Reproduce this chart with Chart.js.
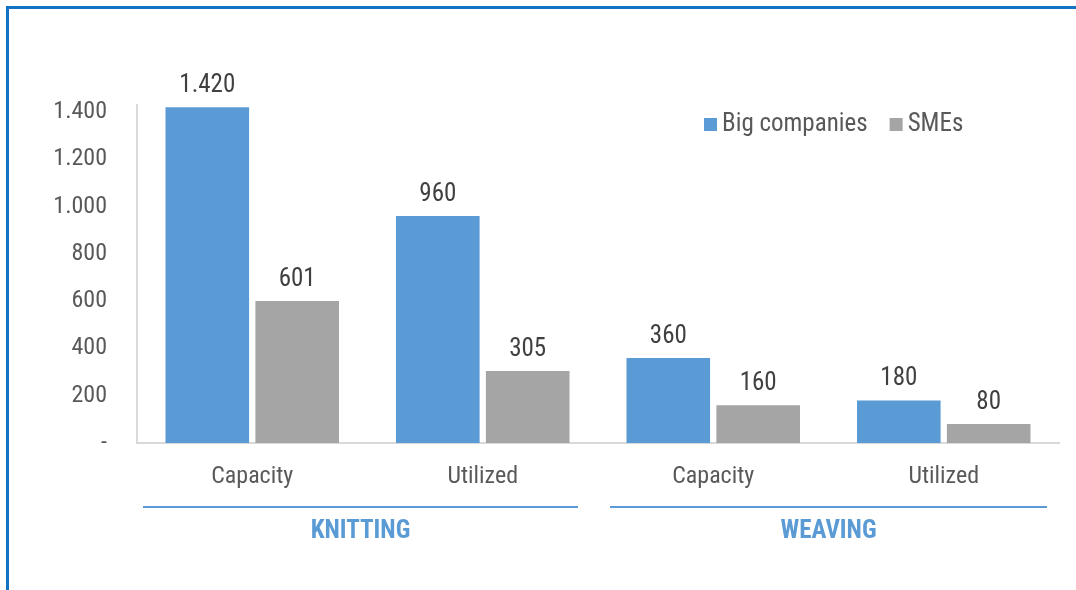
<!DOCTYPE html>
<html>
<head>
<meta charset="utf-8">
<script src="https://cdn.jsdelivr.net/npm/chart.js@4/dist/chart.umd.min.js"></script>
<style>
  html, body { margin: 0; padding: 0; background: #fff; }
  #wrap { position: relative; width: 1076px; height: 590px; }
  #frame {
    position: absolute; left: 6px; top: 6px; right: 0; bottom: 0;
    border-top: 3px solid #1273c3; border-left: 3px solid #1273c3;
  }
  canvas { position: absolute; left: 0; top: 0; }
</style>
</head>
<body>
<div id="wrap">
  <div id="frame"></div>
  <canvas id="capacityChart" width="1076" height="590"></canvas>
</div>
<script>
// capacity vs utilization, knitting & weaving
const categories = ['Capacity', 'Utilized', 'Capacity', 'Utilized'];
const bigCompanies = [1420, 960, 360, 180];
const smes = [601, 305, 160, 80];
const yTicks = [0, 200, 400, 600, 800, 1000, 1200, 1400];
const groups = [
    { label: 'KNITTING', from: 0, to: 1 },
    { label: 'WEAVING', from: 2, to: 3 }
];

const FONT = '"Roboto Condensed", "Liberation Sans Narrow", "Arial Narrow", "DejaVu Sans Condensed", sans-serif';
const BLUE = '#5b9bd5';
const GRAY = '#a5a5a5';

// 1.420 style thousands separator, zero shown as a dash
function fmt(v) {
    if (v === 0) return '-';
    return String(v).replace(/\B(?=(\d{3})+(?!\d))/g, '.');
}

const valueLabels = {
    id: 'valueLabels',
    afterDatasetsDraw(chart) {
        const ctx = chart.ctx;
        ctx.save();
        ctx.font = '25px ' + FONT;
        ctx.fillStyle = '#404040';
        ctx.textAlign = 'center';
        ctx.textBaseline = 'alphabetic';
        chart.data.datasets.forEach((ds, i) => {
            chart.getDatasetMeta(i).data.forEach((bar, j) => {
                ctx.fillText(fmt(ds.data[j]), bar.x, bar.y - 15);
            });
        });
        ctx.restore();
    }
};

const groupLabels = {
    id: 'groupLabels',
    afterDraw(chart) {
        const ctx = chart.ctx;
        const x = chart.scales.x;
        const half = (x.getPixelForValue(1) - x.getPixelForValue(0)) / 2;
        ctx.save();
        groups.forEach((g, k) => {
            const left = x.getPixelForValue(g.from) - half + (k === 0 ? 6 : 12);
            const right = x.getPixelForValue(g.to) + half - (k === 0 ? 20 : 12);
            ctx.strokeStyle = BLUE;
            ctx.lineWidth = 2;
            ctx.beginPath();
            ctx.moveTo(left, 507);
            ctx.lineTo(right, 507);
            ctx.stroke();
            ctx.font = 'bold 25px ' + FONT;
            ctx.fillStyle = BLUE;
            ctx.textAlign = 'center';
            ctx.textBaseline = 'middle';
            ctx.fillText(g.label, (left + right) / 2, 532);
        });
        ctx.restore();
    }
};

const legendBox = {
    id: 'legendBox',
    afterDraw(chart) {
        const ctx = chart.ctx;
        ctx.save();
        ctx.font = '25px ' + FONT;
        ctx.textBaseline = 'middle';
        let x = 704;
        const y = 124;
        chart.data.datasets.forEach(ds => {
            ctx.fillStyle = ds.backgroundColor;
            ctx.fillRect(x, y - 6, 13, 13);
            x += 18;
            ctx.fillStyle = '#595959';
            ctx.textAlign = 'left';
            ctx.fillText(ds.label, x, y + 1);
            x += ctx.measureText(ds.label).width + 22;
        });
        ctx.restore();
    }
};

new Chart(document.getElementById('capacityChart'), {
    type: 'bar',
    data: {
        labels: categories,
        datasets: [
            { label: 'Big companies', data: bigCompanies, backgroundColor: BLUE },
            { label: 'SMEs', data: smes, backgroundColor: GRAY }
        ]
    },
    options: {
        responsive: false,
        animation: false,
        layout: { padding: { top: 105, right: 17, left: 0, bottom: 0 } },
        categoryPercentage: 0.78,
        barPercentage: 0.93,
        plugins: {
            legend: { display: false },
            tooltip: { enabled: false }
        },
        scales: {
            x: {
                grid: { display: false, drawTicks: false },
                border: { display: true, color: '#d9d9d9', width: 2 },
                ticks: { color: '#595959', font: { family: FONT, size: 24 }, padding: 20 },
                afterFit: s => { s.height = 147; }
            },
            y: {
                min: 0,
                max: 1430,
                grid: { display: false, drawTicks: false },
                border: { display: true, color: '#d9d9d9', width: 2 },
                ticks: {
                    color: '#595959',
                    font: { family: FONT, size: 24 },
                    padding: 30,
                    callback: v => fmt(v)
                },
                afterBuildTicks: s => { s.ticks = yTicks.map(v => ({ value: v })); },
                afterFit: s => { s.width = 137; }
            }
        }
    },
    plugins: [valueLabels, groupLabels, legendBox]
});
</script>
</body>
</html>
